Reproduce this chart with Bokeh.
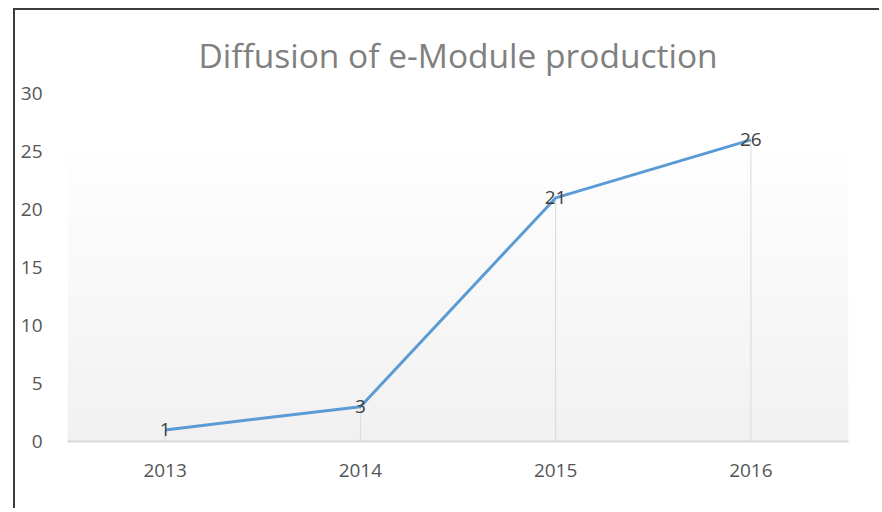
import numpy as np
from bokeh.plotting import figure
from bokeh.models import FactorRange, Range1d, FixedTicker, ColumnDataSource, LabelSet
from bokeh.core.properties import value
from bokeh.embed import file_html
from bokeh.resources import INLINE

years = ["2013", "2014", "2015", "2016"]
values = [1, 3, 21, 26]
y_ticks = [0, 5, 10, 15, 20, 25, 30]
title_text = "Diffusion of e-Module production"

FONT = "Open Sans"

p = figure(width=866, height=500, x_range=FactorRange(*years), y_range=Range1d(0, 30),
           output_backend="svg", toolbar_location=None,
           min_border_left=52, min_border_right=33, min_border_top=83, min_border_bottom=69)
p.styles = {"border-left": "2px solid #3c3c3c", "border-top": "2px solid #3c3c3c",
            "margin-left": "13px", "margin-top": "8px"}

p.title.text = title_text
p.title.align = "center"
p.title.text_font = FONT
p.title.text_font_size = "33.5px"
p.title.text_font_style = "normal"
p.title.text_color = "#808080"
p.title.standoff = 31
p.title.offset = -4

p.outline_line_color = None
p.background_fill_color = "white"
p.border_fill_color = "white"
p.xgrid.grid_line_color = None
p.ygrid.grid_line_color = None

# subtle vertical gradient in the plot area
n = 64
grad = np.zeros((n, 1), dtype=np.uint32)
view = grad.view(dtype=np.uint8).reshape((n, 1, 4))
for i in range(n):
    t = i / (n - 1)  # 0 at bottom, 1 at top
    c = int(round(241 + (254 - 241) * t))
    view[i, 0, :] = [c, c, c, 255]
p.image_rgba(image=[grad], x=0, y=0, dw=4, dh=24.8, level="image")

src = ColumnDataSource(dict(x=years, y=values, y0=[0] * len(values), lab=[str(v) for v in values]))

p.segment(x0="x", y0="y0", x1="x", y1="y", source=src, line_color="#d9d9d9", line_width=1)
p.line(x="x", y="y", source=src, line_color="#5b9bd5", line_width=3, line_join="round")

labels = LabelSet(x="x", y="y", text="lab", source=src, text_align="center", text_baseline="middle",
                  text_font=value(FONT), text_font_size=value("19px"), text_color="#404040")
p.add_layout(labels)

p.yaxis.ticker = FixedTicker(ticks=y_ticks)
p.yaxis.axis_line_color = None
p.yaxis.major_tick_line_color = None
p.yaxis.minor_tick_line_color = None
p.yaxis.major_label_standoff = 19
p.yaxis.major_label_text_font = FONT
p.yaxis.major_label_text_font_size = "19px"
p.yaxis.major_label_text_color = "#555555"

p.xaxis.axis_line_color = "#d9d9d9"
p.xaxis.axis_line_width = 2
p.xaxis.major_tick_line_color = None
p.xaxis.minor_tick_line_color = None
p.xaxis.major_label_standoff = 16
p.xaxis.major_label_text_font = FONT
p.xaxis.major_label_text_font_size = "19px"
p.xaxis.major_label_text_color = "#555555"
p.x_range.range_padding = 0

open("out.html", "w").write(file_html(p, INLINE))
